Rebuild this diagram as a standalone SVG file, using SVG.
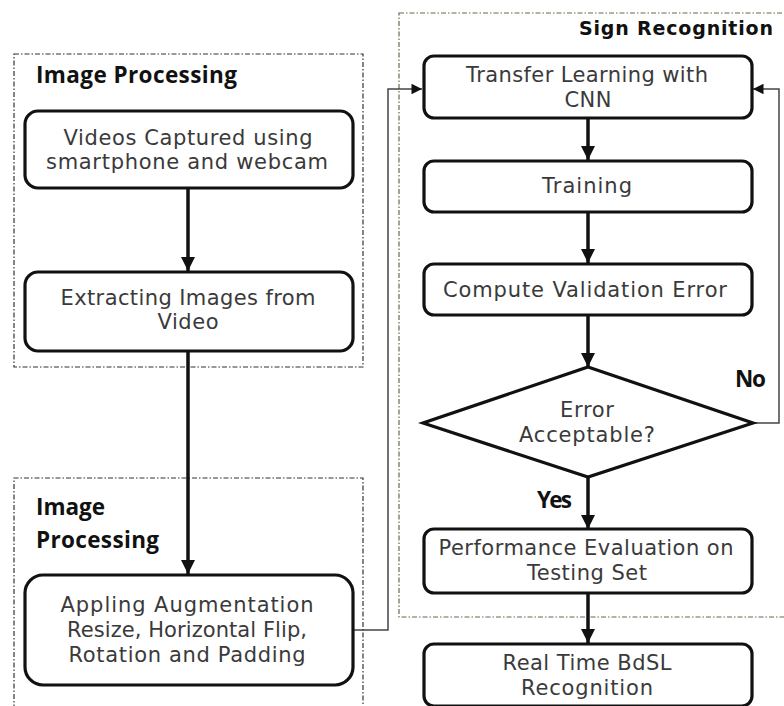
<svg xmlns="http://www.w3.org/2000/svg" width="784" height="706" viewBox="0 0 784 706">
<style>
.frame{fill:none;stroke:#333;stroke-width:1.2;stroke-dasharray:5 2 1.5 2}
.frameg{fill:none;stroke:#5f6f4f;stroke-width:1.2;stroke-dasharray:5 2 1.5 2}
.box{fill:#fff;stroke:#111;stroke-width:3.2}
.t{font-family:"DejaVu Sans",sans-serif;font-size:21px;fill:#3a3a3a;text-anchor:middle}
.h{font-family:"Open Sans","Liberation Sans",sans-serif;font-weight:bold;font-size:22.5px;fill:#111}
.hs{font-family:"DejaVu Sans",sans-serif;font-weight:bold;font-size:19px;fill:#111}
.thick{fill:none;stroke:#111;stroke-width:3.5}
.thin{fill:none;stroke:#444;stroke-width:1.5}
</style>
<defs>
<marker id="ah" viewBox="0 0 10 10" refX="10" refY="5" markerWidth="4" markerHeight="4" markerUnits="strokeWidth" orient="auto">
<path d="M0,0 L10,5 L0,10 z" fill="#111"/>
</marker>
<marker id="ahs" viewBox="0 0 10 10" refX="10" refY="5" markerWidth="8" markerHeight="7" markerUnits="strokeWidth" orient="auto">
<path d="M0,0 L10,5 L0,10 z" fill="#111"/>
</marker>
</defs>
<rect width="784" height="706" fill="#fff"/>

<g id="frames">
<rect class="frame" x="14" y="54" width="349" height="313"/>
<path class="frame" d="M14,720 V478 H363 V720"/>
<rect class="frameg" x="399" y="13" width="400" height="604"/>
<text class="h" x="36" y="83" textLength="201">Image Processing</text>
<text class="h" x="36" y="515" textLength="69">Image</text>
<text class="h" x="36" y="548" textLength="123">Processing</text>
<text class="hs" x="579" y="35" textLength="194">Sign Recognition</text>
</g>

<g id="connectors">
<line class="thick" x1="188" y1="188" x2="188" y2="271" marker-end="url(#ah)"/>
<line class="thick" x1="188" y1="351" x2="188" y2="574" marker-end="url(#ah)"/>
<polyline class="thin" points="353,630 388,630 388,89 422,89" marker-end="url(#ahs)"/>
<line class="thick" x1="588" y1="118" x2="588" y2="160" marker-end="url(#ah)"/>
<line class="thick" x1="588" y1="212" x2="588" y2="263" marker-end="url(#ah)"/>
<line class="thick" x1="588" y1="315" x2="588" y2="367" marker-end="url(#ah)"/>
<polyline class="thin" points="753,423 779,423 779,89 753,89" marker-end="url(#ahs)"/>
<line class="thick" x1="588" y1="477" x2="588" y2="529" marker-end="url(#ah)"/>
<line class="thick" x1="588" y1="593" x2="588" y2="643" marker-end="url(#ah)"/>
<text class="h" x="735" y="387" textLength="31">No</text>
<text class="h" x="537" y="508" textLength="35">Yes</text>
</g>

<g id="n1">
<rect class="box" x="25" y="111" width="328" height="77" rx="13"/>
<text class="t" x="188" y="145" textLength="249">Videos Captured using</text>
<text class="t" x="187" y="169" textLength="282">smartphone and webcam</text>
</g>
<g id="n2">
<rect class="box" x="25" y="272" width="328" height="79" rx="13"/>
<text class="t" x="188" y="305" textLength="255">Extracting Images from</text>
<text class="t" x="188" y="329" textLength="61">Video</text>
</g>
<g id="n3">
<rect class="box" x="25" y="575" width="328" height="110" rx="18"/>
<text class="t" x="187" y="612" textLength="253">Appling Augmentation</text>
<text class="t" x="187" y="637" textLength="240">Resize, Horizontal Flip,</text>
<text class="t" x="187" y="662" textLength="237">Rotation and Padding</text>
</g>
<g id="n4">
<rect class="box" x="424" y="56" width="328" height="62" rx="10"/>
<text class="t" x="587" y="82" textLength="242">Transfer Learning with</text>
<text class="t" x="588" y="107" textLength="47">CNN</text>
</g>
<g id="n5">
<rect class="box" x="424" y="161" width="328" height="51" rx="10"/>
<text class="t" x="587" y="193" textLength="90">Training</text>
</g>
<g id="n6">
<rect class="box" x="424" y="264" width="328" height="51" rx="10"/>
<text class="t" x="585" y="297" textLength="284">Compute Validation Error</text>
</g>
<g id="n7">
<polygon class="box" points="588,367 753,423 588,477 423,423"/>
<text class="t" x="587" y="417" textLength="54">Error</text>
<text class="t" x="587" y="442" textLength="136">Acceptable?</text>
</g>
<g id="n8">
<rect class="box" x="424" y="529" width="328" height="64" rx="10"/>
<text class="t" x="586" y="555" textLength="295">Performance Evaluation on</text>
<text class="t" x="587" y="580" textLength="120">Testing Set</text>
</g>
<g id="n9">
<rect class="box" x="424" y="644" width="328" height="62" rx="10"/>
<text class="t" x="587" y="670" textLength="169">Real Time BdSL</text>
<text class="t" x="587" y="695" textLength="132">Recognition</text>
</g>
</svg>
